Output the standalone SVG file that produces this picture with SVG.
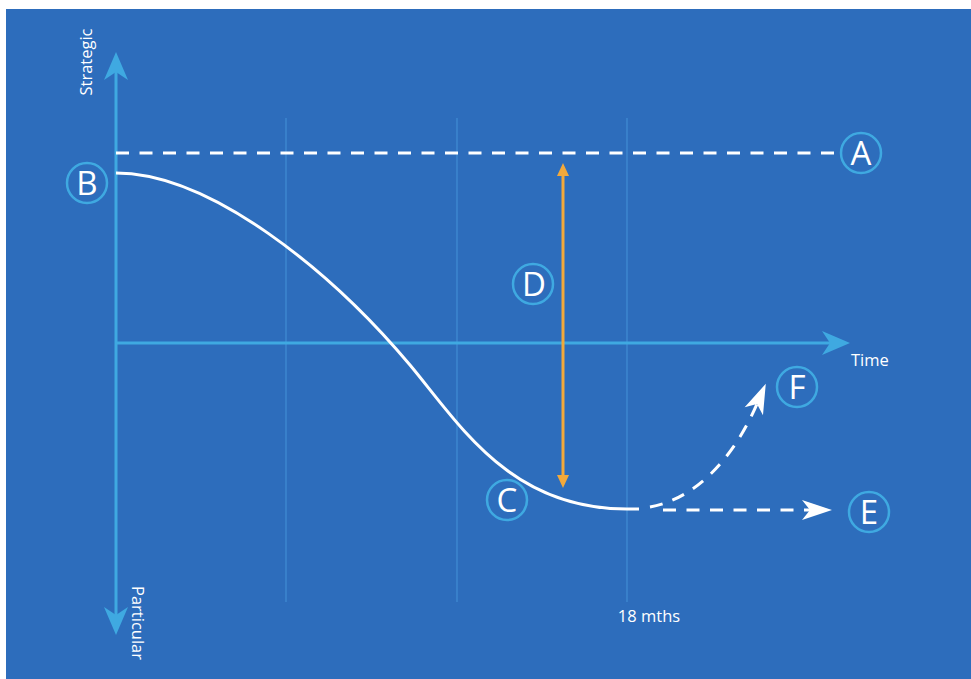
<svg xmlns="http://www.w3.org/2000/svg" width="971" height="679" viewBox="0 0 971 679">
<style>
.grid{stroke:#4fa3e6;stroke-width:1;opacity:0.7;fill:none}
.axis{stroke:#3fa9e1;stroke-width:3;fill:none}
.dash{stroke:#ffffff;stroke-width:3;fill:none;stroke-dasharray:13 10.5}
.curve{stroke:#ffffff;stroke-width:3;fill:none}
.ring{stroke:#3fa9e1;stroke-width:2.5;fill:none}
.letter{fill:#ffffff;font-family:"Open Sans","DejaVu Sans",sans-serif;font-size:33px;text-anchor:middle}
.label{fill:#ffffff;font-family:"Open Sans","DejaVu Sans",sans-serif;font-size:16.5px}
</style>
<defs>
<marker id="axHead" viewBox="-10 -13 34 26" refX="0" refY="0" markerWidth="34" markerHeight="26" markerUnits="userSpaceOnUse" orient="auto-start-reverse">
<path d="M20,0 L-8,-12 L0,0 L-8,12 Z" fill="#3fa9e1"/>
</marker>
<marker id="whHead" viewBox="-10 -12 34 24" refX="0" refY="0" markerWidth="34" markerHeight="24" markerUnits="userSpaceOnUse" orient="auto">
<path d="M22,0 L-8,-10 L0,0 L-8,10 Z" fill="#ffffff"/>
</marker>
<marker id="orHead" viewBox="-2 -7 16 14" refX="0" refY="0" markerWidth="16" markerHeight="14" markerUnits="userSpaceOnUse" orient="auto-start-reverse">
<path d="M13,0 L0,-6 L0,6 Z" fill="#f2a93b"/>
</marker>
</defs>
<rect x="6" y="9" width="965" height="670" fill="#2d6dbc"/>
<g id="gridlines">
<line class="grid" x1="286" y1="118" x2="286" y2="602"/>
<line class="grid" x1="457" y1="118" x2="457" y2="602"/>
<line class="grid" x1="627" y1="118" x2="627" y2="602"/>
</g>
<g id="connectors">
<line class="axis" x1="116" y1="72" x2="116" y2="615" marker-start="url(#axHead)" marker-end="url(#axHead)"/>
<line class="axis" x1="116" y1="343" x2="830" y2="343" marker-end="url(#axHead)"/>
<line class="dash" x1="116" y1="153" x2="836" y2="153"/>
<path class="curve" d="M116,173 C210,173 330,270 410,365 C460,425 510,509 627,509 L639,509"/>
<line class="dash" x1="663" y1="510" x2="810" y2="510" marker-end="url(#whHead)"/>
<path class="dash" d="M650,507 C690,500 730,466 757,404" marker-end="url(#whHead)"/>
<line stroke="#f2a93b" stroke-width="3" x1="563" y1="176" x2="563" y2="475" marker-start="url(#orHead)" marker-end="url(#orHead)"/>
</g>
<g id="node-A"><circle class="ring" cx="861" cy="153" r="20"/><text class="letter" x="861" y="165">A</text></g>
<g id="node-B"><circle class="ring" cx="87" cy="183" r="20"/><text class="letter" x="87" y="195">B</text></g>
<g id="node-C"><circle class="ring" cx="507" cy="500" r="20"/><text class="letter" x="507" y="512">C</text></g>
<g id="node-D"><circle class="ring" cx="533" cy="284" r="20"/><text class="letter" x="534" y="296">D</text></g>
<g id="node-E"><circle class="ring" cx="869" cy="512" r="20"/><text class="letter" x="869" y="524">E</text></g>
<g id="node-F"><circle class="ring" cx="797" cy="387" r="20"/><text class="letter" x="797" y="399">F</text></g>
<g id="labels">
<text class="label" text-anchor="middle" transform="translate(92,62) rotate(-90)">Strategic</text>
<text class="label" text-anchor="middle" transform="translate(132,623) rotate(90)">Particular</text>
<text class="label" x="851" y="366">Time</text>
<text class="label" x="649" y="622" text-anchor="middle">18 mths</text>
</g>
</svg>
